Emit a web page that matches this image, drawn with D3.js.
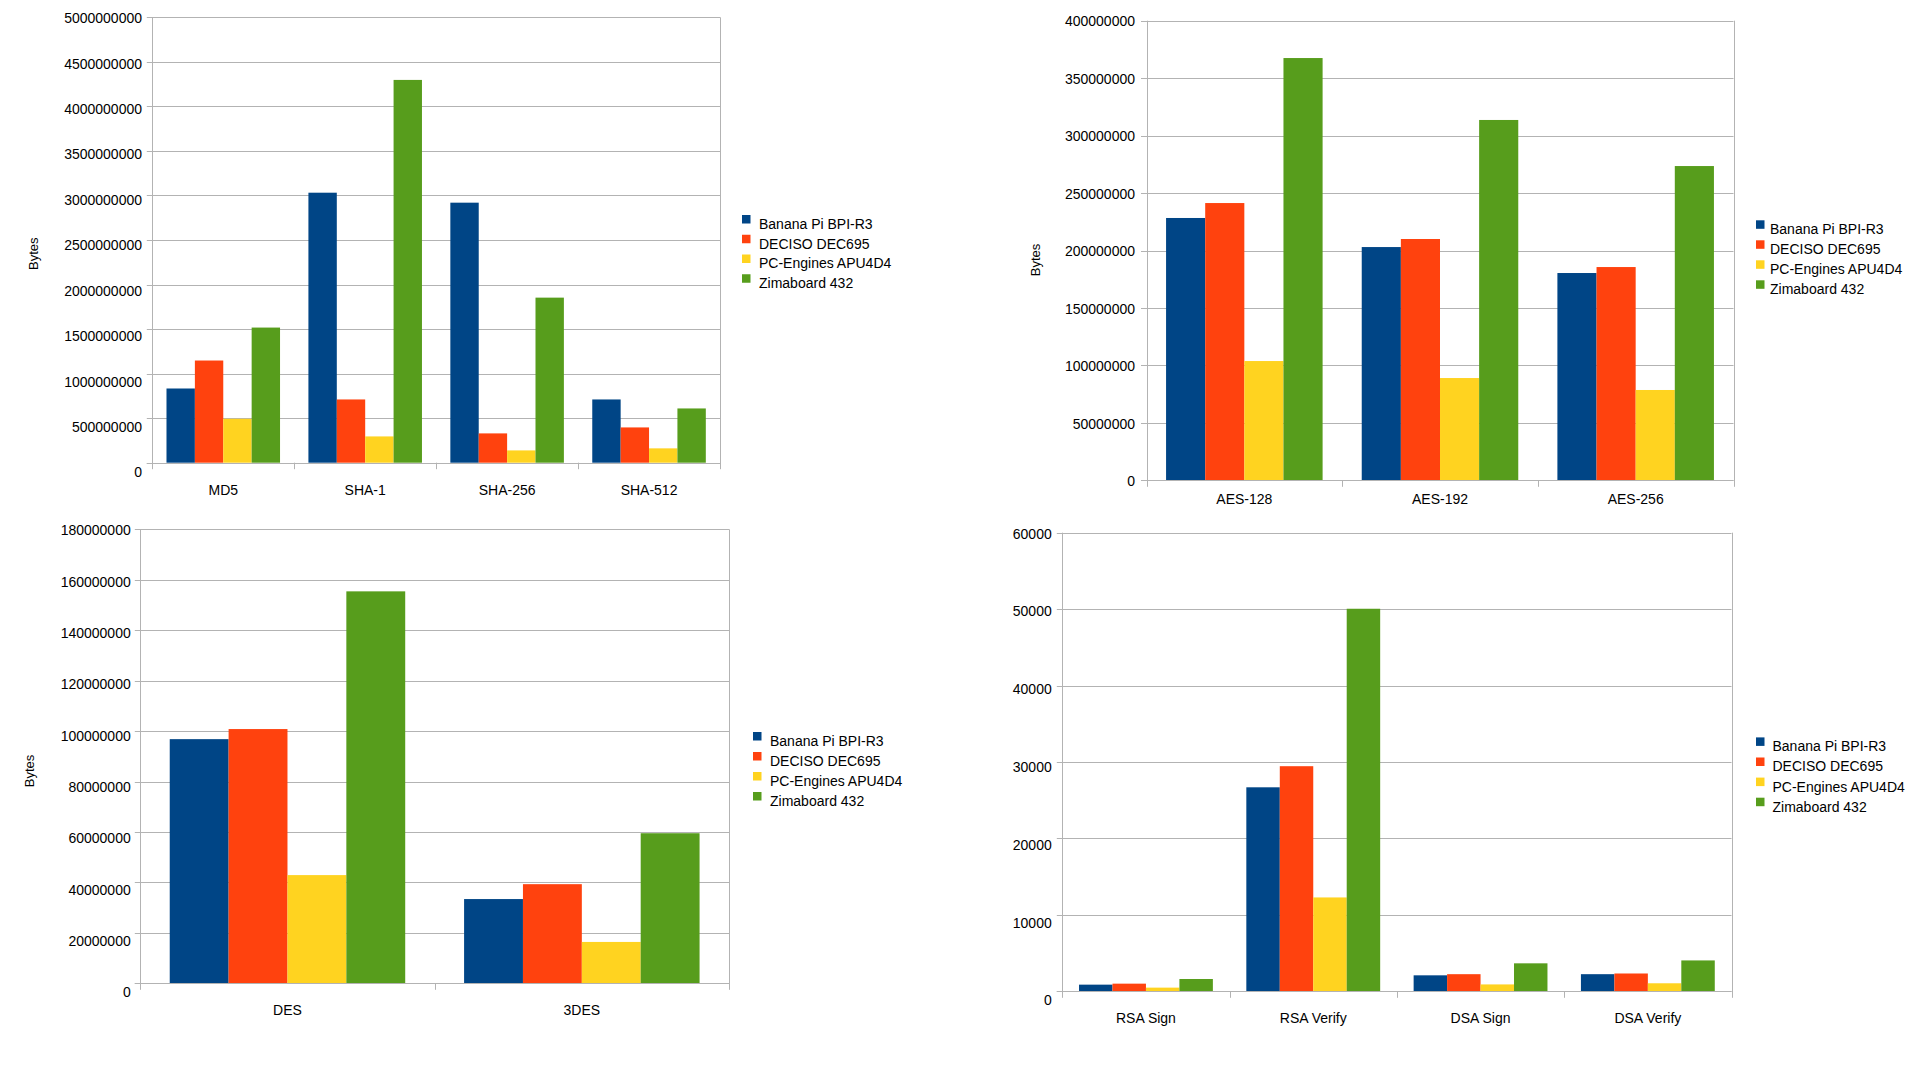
<!DOCTYPE html>
<html>
<head>
<meta charset="utf-8">
<script src="https://cdn.jsdelivr.net/npm/d3@7"></script>
<style>
  html, body { margin: 0; padding: 0; background: #ffffff; }
  svg { display: block; }
  text { font-family: "Liberation Sans", Arial, sans-serif; fill: #000; }
</style>
</head>
<body>
<svg id="chart" width="1920" height="1080"></svg>
<script>
// ---------- DATA ----------
const seriesNames = ["Banana Pi BPI-R3", "DECISO DEC695", "PC-Engines APU4D4", "Zimaboard 432"];

// Hash throughput (bytes)
const hashCategories = ["MD5", "SHA-1", "SHA-256", "SHA-512"];
const hashBananaPi   = [833000000, 3031000000, 2919000000, 710000000];
const hashDeciso     = [1147000000, 710000000, 329000000, 396000000];
const hashPcEngines  = [493000000, 295000000, 138000000, 161000000];
const hashZimaboard  = [1517000000, 4297000000, 1853000000, 609000000];
const hashTicks = [0, 500000000, 1000000000, 1500000000, 2000000000, 2500000000, 3000000000, 3500000000, 4000000000, 4500000000, 5000000000];

// AES throughput (bytes)
const aesCategories = ["AES-128", "AES-192", "AES-256"];
const aesBananaPi   = [228300000, 203000000, 180400000];
const aesDeciso     = [241300000, 210000000, 185600000];
const aesPcEngines  = [103800000, 89000000, 78600000];
const aesZimaboard  = [367500000, 313600000, 273500000];
const aesTicks = [0, 50000000, 100000000, 150000000, 200000000, 250000000, 300000000, 350000000, 400000000];

// DES throughput (bytes)
const desCategories = ["DES", "3DES"];
const desBananaPi   = [96800000, 33400000];
const desDeciso     = [100800000, 39300000];
const desPcEngines  = [42900000, 16400000];
const desZimaboard  = [155400000, 59500000];
const desTicks = [0, 20000000, 40000000, 60000000, 80000000, 100000000, 120000000, 140000000, 160000000, 180000000];

// Public key operations
const pkCategories = ["RSA Sign", "RSA Verify", "DSA Sign", "DSA Verify"];
const pkBananaPi   = [870, 26690, 2090, 2240];
const pkDeciso     = [1000, 29450, 2240, 2330];
const pkPcEngines  = [480, 12280, 900, 1050];
const pkZimaboard  = [1610, 50050, 3660, 4040];
const pkTicks = [0, 10000, 20000, 30000, 40000, 50000, 60000];

// ---------- STYLE ----------
const palette = ["#004586", "#ff420e", "#ffd320", "#579d1c"];
const gridColor = "#b3b3b3";

const svg = d3.select("#chart");

function drawChart(cfg) {
  const g = svg.append("g");
  const series = [cfg.s0, cfg.s1, cfg.s2, cfg.s3];
  const maxV = d3.max(cfg.ticks);

  const x = d3.scaleBand().domain(cfg.categories).range([cfg.L, cfg.R]).paddingInner(0).paddingOuter(0);
  const bw = x.bandwidth();
  const xs = d3.scaleBand().domain(d3.range(seriesNames.length)).range([bw * 0.1, bw * 0.9]).padding(0);
  const y = d3.scaleLinear().domain([0, maxV]).range([cfg.zero, cfg.top]);
  const yLab = d3.scaleLinear().domain([0, maxV]).range([cfg.labZero, cfg.labTop]);

  // gridlines (with outward tick)
  g.append("g").selectAll("line").data(cfg.ticks).join("line")
    .attr("x1", cfg.L - 5.5).attr("x2", cfg.R)
    .attr("y1", d => Math.round(y(d)) + 0.5).attr("y2", d => Math.round(y(d)) + 0.5)
    .attr("stroke", gridColor).attr("stroke-width", 1);

  // bars
  const rows = [];
  cfg.categories.forEach((c, i) => series.forEach((s, j) => rows.push({ c, j, v: s[i] })));
  g.append("g").selectAll("rect").data(rows).join("rect")
    .attr("x", d => x(d.c) + xs(d.j))
    .attr("width", xs.bandwidth())
    .attr("y", d => y(d.v))
    .attr("height", d => y(0) - y(d.v))
    .attr("fill", d => palette[d.j]);

  // zero line redraw on top
  g.append("line")
    .attr("x1", cfg.L - 5.5).attr("x2", cfg.R)
    .attr("y1", Math.round(y(0)) + 0.5).attr("y2", Math.round(y(0)) + 0.5)
    .attr("stroke", gridColor);

  // left axis, right frame, category ticks
  const bounds = cfg.categories.map(c => x(c)).concat([cfg.R]);
  g.append("g").selectAll("line").data(bounds).join("line")
    .attr("x1", d => Math.round(d) + 0.5).attr("x2", d => Math.round(d) + 0.5)
    .attr("y1", (d, i) => (i === 0 || i === bounds.length - 1) ? cfg.top : cfg.zero)
    .attr("y2", cfg.zero + 6.5)
    .attr("stroke", gridColor);

  // y labels
  const yAxis = d3.axisLeft(yLab).tickValues(cfg.ticks).tickSize(0)
    .tickPadding(cfg.L - cfg.ylabRight).tickFormat(d3.format("d"));
  const ya = g.append("g").attr("transform", `translate(${cfg.L},0)`).call(yAxis);
  ya.select(".domain").remove();
  ya.selectAll("text").attr("font-size", 14).attr("font-family", "Liberation Sans, Arial, sans-serif").attr("fill", "#000").attr("dy", "0.35em");

  // x labels
  const xAxis = d3.axisBottom(x).tickSize(0).tickPadding(0);
  const xa = g.append("g").attr("transform", `translate(0,${cfg.catY})`).call(xAxis);
  xa.select(".domain").remove();
  xa.selectAll("text").attr("font-size", 14).attr("font-family", "Liberation Sans, Arial, sans-serif").attr("fill", "#000").attr("dy", "0.35em").attr("y", 0);

  // y title
  if (cfg.bytes) {
    g.append("text")
      .attr("transform", `translate(${cfg.bytes[0]},${cfg.bytes[1]}) rotate(-90)`)
      .attr("text-anchor", "middle").attr("dy", "0.35em")
      .attr("font-size", 13).text("Bytes");
  }

  // legend
  const leg = g.append("g").selectAll("g").data(seriesNames).join("g")
    .attr("transform", (d, i) => `translate(0,${cfg.legY0 + i * cfg.legDy})`);
  leg.append("rect")
    .attr("x", cfg.legSqX).attr("y", -9).attr("width", 8.5).attr("height", 8.5)
    .attr("fill", (d, i) => palette[i]);
  leg.append("text")
    .attr("x", cfg.legTxtX).attr("y", 0).attr("dy", "0.35em")
    .attr("font-size", 14).text(d => d);
}

drawChart({
  categories: hashCategories, s0: hashBananaPi, s1: hashDeciso, s2: hashPcEngines, s3: hashZimaboard, ticks: hashTicks,
  L: 152.3, R: 720, top: 17.3, zero: 462.7, labTop: 17.7, labZero: 472, ylabRight: 142, catY: 490,
  bytes: [33, 253.7], legSqX: 742, legTxtX: 759, legY0: 224, legDy: 19.75
});
drawChart({
  categories: aesCategories, s0: aesBananaPi, s1: aesDeciso, s2: aesPcEngines, s3: aesZimaboard, ticks: aesTicks,
  L: 1146.5, R: 1733.5, top: 20.7, zero: 480.3, labTop: 20.7, labZero: 481, ylabRight: 1135, catY: 499,
  bytes: [1035, 260], legSqX: 1756, legTxtX: 1770, legY0: 229.3, legDy: 20
});
drawChart({
  categories: desCategories, s0: desBananaPi, s1: desDeciso, s2: desPcEngines, s3: desZimaboard, ticks: desTicks,
  L: 140.3, R: 729, top: 529.3, zero: 983.3, labTop: 530, labZero: 992, ylabRight: 130.7, catY: 1010,
  bytes: [29, 771], legSqX: 753, legTxtX: 770, legY0: 741, legDy: 20
});
drawChart({
  categories: pkCategories, s0: pkBananaPi, s1: pkDeciso, s2: pkPcEngines, s3: pkZimaboard, ticks: pkTicks,
  L: 1062.3, R: 1731.5, top: 532.7, zero: 991.3, labTop: 533.3, labZero: 1000, ylabRight: 1051.7, catY: 1017.7,
  bytes: null, legSqX: 1756, legTxtX: 1772.5, legY0: 746.4, legDy: 20.1
});
</script>
</body>
</html>
